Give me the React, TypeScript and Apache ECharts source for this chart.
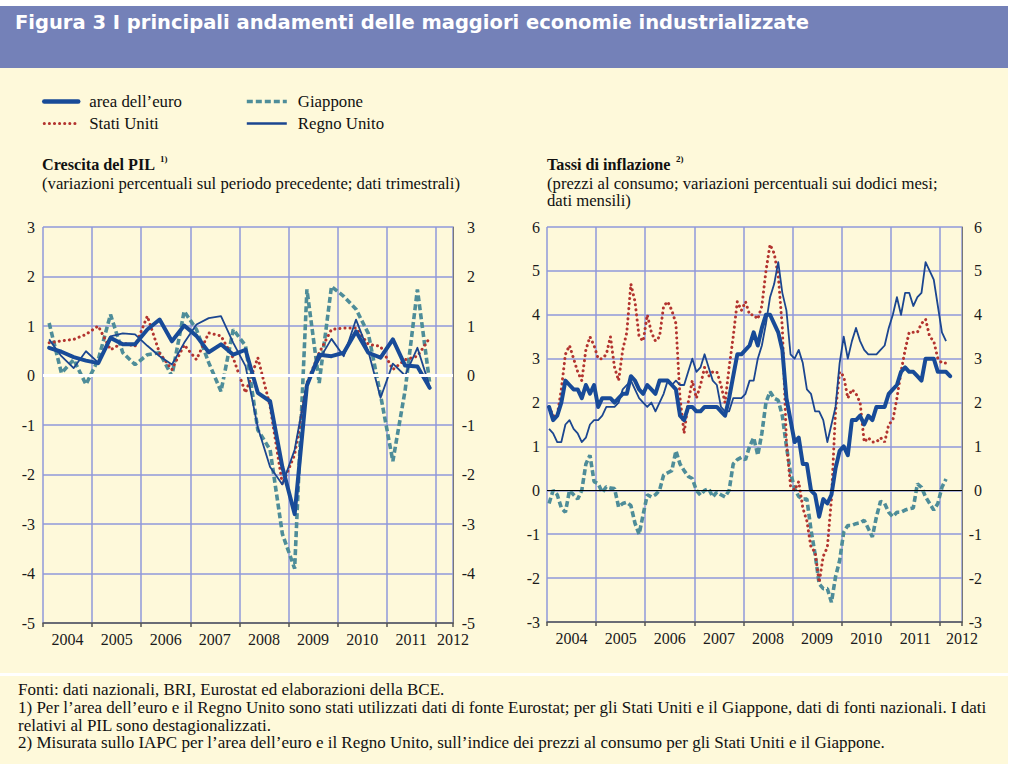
import React, { useEffect, useRef } from 'react';
import * as echarts from 'echarts';

const SERIF = '"Liberation Serif", "Times New Roman", serif';
const TITLE = 'Figura 3 I principali andamenti delle maggiori economie industrializzate';
const YEARS = ['2004', '2005', '2006', '2007', '2008', '2009', '2010', '2011', '2012'];
const START = 2004;

const NAMES = ["area dell\u2019euro", 'Stati Uniti', 'Giappone', 'Regno Unito'];

// GDP growth, quarterly, 2004Q1 - 2011Q4
const gdpEuro = [0.56, 0.48, 0.37, 0.3, 0.25, 0.76, 0.63, 0.63, 0.93, 1.13, 0.69, 1.01, 0.8, 0.47, 0.63, 0.42, 0.52, -0.35, -0.52, -1.85, -2.8, -0.2, 0.42, 0.39, 0.46, 0.89, 0.46, 0.36, 0.73, 0.2, 0.18, -0.25];
const gdpUS = [0.66, 0.7, 0.73, 0.83, 1.0, 0.52, 0.66, 0.59, 1.2, 0.45, 0.12, 0.62, 0.32, 0.86, 0.8, 0.35, -0.35, 0.36, -0.62, -2.2, -1.6, -0.15, 0.46, 0.93, 0.96, 0.96, 0.63, 0.59, 0.12, 0.32, 0.39, 0.76];
const gdpJapan = [1.06, 0.05, 0.32, -0.18, 0.32, 1.23, 0.46, 0.22, 0.42, 0.46, -0.01, 1.3, 0.93, 0.26, -0.32, 0.93, 0.6, -1.1, -1.5, -3.2, -3.9, 1.74, -0.15, 1.8, 1.6, 1.34, 0.85, -0.4, -1.73, -0.3, 1.74, -0.15];
const gdpUK = [0.73, 0.39, 0.15, 0.49, 0.26, 0.79, 0.85, 0.83, 0.6, 0.39, 0.22, 0.66, 1.03, 1.16, 1.2, 0.66, 0.19, -1.05, -1.85, -2.2, -1.5, -0.15, 0.32, 0.74, 0.39, 1.13, 0.49, -0.45, 0.24, 0.0, 0.56, -0.22];

// Consumer price inflation, monthly, from Jan 2004
const cpiEuro = [
  1.9, 1.6, 1.7, 2.0, 2.5, 2.4, 2.3, 2.3, 2.1, 2.4, 2.2, 2.4,
  1.9, 2.1, 2.1, 2.1, 2.0, 2.1, 2.2, 2.2, 2.6, 2.5, 2.3, 2.2,
  2.4, 2.3, 2.2, 2.5, 2.5, 2.5, 2.4, 2.3, 1.7, 1.6, 1.9, 1.9,
  1.8, 1.8, 1.9, 1.9, 1.9, 1.9, 1.8, 1.7, 2.1, 2.6, 3.1, 3.1,
  3.2, 3.3, 3.6, 3.3, 3.7, 4.0, 4.0, 3.8, 3.6, 3.2, 2.1, 1.6,
  1.1, 1.2, 0.6, 0.6, 0.0, -0.1, -0.6, -0.2, -0.3, -0.1, 0.5, 0.9,
  1.0, 0.8, 1.6, 1.6, 1.7, 1.5, 1.7, 1.6, 1.9, 1.9, 1.9, 2.2,
  2.3, 2.4, 2.7, 2.8, 2.7, 2.7, 2.6, 2.5, 3.0, 3.0, 3.0, 2.7,
  2.7, 2.7, 2.6,
];
const cpiUS = [
  1.9, 1.7, 1.7, 2.3, 3.1, 3.3, 3.0, 2.7, 2.5, 3.2, 3.5, 3.3,
  3.0, 3.0, 3.1, 3.5, 2.8, 2.5, 3.2, 3.6, 4.7, 4.3, 3.5, 3.4,
  4.0, 3.6, 3.4, 3.5, 4.2, 4.3, 4.1, 3.8, 2.1, 1.3, 2.0, 2.5,
  2.1, 2.4, 2.8, 2.6, 2.7, 2.7, 2.4, 2.0, 2.8, 3.5, 4.3, 4.1,
  4.3, 4.0, 4.0, 3.9, 4.2, 5.0, 5.6, 5.4, 4.9, 3.7, 1.1, 0.1,
  0.0, 0.2, -0.4, -0.7, -1.3, -1.4, -2.1, -1.5, -1.3, -0.2, 1.8, 2.7,
  2.6, 2.1, 2.3, 2.2, 2.0, 1.1, 1.2, 1.1, 1.1, 1.2, 1.1, 1.5,
  1.6, 2.1, 2.7, 3.2, 3.6, 3.6, 3.6, 3.8, 3.9, 3.5, 3.4, 3.0,
  2.9, 2.9,
];
const cpiJapan = [
  -0.3, 0.0, -0.1, -0.4, -0.5, 0.0, -0.1, -0.2, 0.0, 0.6, 0.8, 0.2,
  0.15, -0.05, 0.08, 0.05, 0.04, -0.38, -0.3, -0.27, -0.35, -0.75, -1.0, -0.55,
  -0.1, -0.15, -0.1, 0.0, 0.35, 0.4, 0.45, 0.9, 0.6, 0.45, 0.32, 0.27,
  0.0, -0.11, 0.0, 0.04, -0.15, -0.04, -0.1, -0.15, 0.0, 0.6, 0.7, 0.75,
  0.7, 1.0, 1.2, 0.8, 1.3, 2.0, 2.25, 2.1, 2.05, 1.7, 1.0, 0.4,
  0.04, -0.14, -0.2, -0.2, -0.9, -1.45, -2.13, -2.24, -2.24, -2.55, -1.97, -1.6,
  -0.95, -0.8, -0.8, -0.76, -0.74, -0.68, -0.87, -1.06, -0.6, -0.25, -0.3, -0.5,
  -0.6, -0.5, -0.5, -0.45, -0.42, -0.4, 0.15, 0.07, -0.15, -0.3, -0.45, -0.3,
  0.07, 0.26,
];
const cpiUK = [
  1.4, 1.3, 1.1, 1.1, 1.5, 1.6, 1.4, 1.3, 1.1, 1.2, 1.5, 1.6,
  1.6, 1.7, 1.9, 1.9, 1.9, 2.0, 2.3, 2.4, 2.5, 2.3, 2.1, 2.0,
  1.9, 2.0, 1.8, 2.0, 2.2, 2.5, 2.4, 2.5, 2.4, 2.4, 2.7, 3.0,
  2.7, 2.8, 3.1, 2.8, 2.5, 2.4, 1.9, 1.8, 1.8, 2.1, 2.1, 2.1,
  2.2, 2.5, 2.5, 3.0, 3.3, 3.8, 4.4, 4.7, 5.2, 4.5, 4.1, 3.1,
  3.0, 3.2, 2.9, 2.3, 2.2, 1.8, 1.8, 1.6, 1.1, 1.5, 1.9, 2.9,
  3.5, 3.0, 3.4, 3.7, 3.4, 3.2, 3.1, 3.1, 3.1, 3.2, 3.3, 3.7,
  4.0, 4.4, 4.0, 4.5, 4.5, 4.2, 4.4, 4.5, 5.2, 5.0, 4.8, 4.2,
  3.6, 3.4,
];

const COL_EURO = '#184b98';
const COL_UK = '#1b4690';
const COL_US = '#b3342f';
const COL_JP = '#4e8d99';
const GRID_COL = '#8f99da';

const toPoints = (arr: number[], perYear: number) =>
  arr.map((v, i) => [START + (i + 0.5) / perYear, v]);

const yearLabel = (v: number) => {
  const fl = Math.floor(v + 1e-6);
  const frac = v - fl;
  if (Math.abs(frac - 0.5) < 0.01) return YEARS[fl - START] ?? '';
  if (v > 2012.2) return YEARS[YEARS.length - 1];
  return '';
};

const STYLE: Record<string, any> = {
  [NAMES[0]]: { color: COL_EURO, width: 4, type: 'solid', cap: 'round', join: 'round' },
  [NAMES[1]]: { color: COL_US, width: 3, type: [0.1, 5], cap: 'round' },
  [NAMES[2]]: { color: COL_JP, width: 3.6, type: [6, 3], cap: 'butt' },
  [NAMES[3]]: { color: COL_UK, width: 1.8, type: 'solid', join: 'round' },
};
const LEGEND_W: Record<string, number> = { [NAMES[0]]: 4.5, [NAMES[1]]: 3, [NAMES[2]]: 3.6, [NAMES[3]]: 2.6 };

function lineSeries(name: string, data: number[][], xi: number, yi: number) {
  return {
    name,
    type: 'line',
    xAxisIndex: xi,
    yAxisIndex: yi,
    data,
    symbol: 'none',
    silent: true,
    lineStyle: STYLE[name],
    itemStyle: { color: STYLE[name].color },
    emphasis: { disabled: true },
  };
}

function zeroSeries(xi: number, yi: number, color: string, width: number) {
  return {
    name: 'zero' + xi,
    type: 'line',
    xAxisIndex: xi,
    yAxisIndex: yi,
    data: [],
    symbol: 'none',
    silent: true,
    markLine: {
      silent: true,
      symbol: 'none',
      label: { show: false },
      lineStyle: { color, width, type: 'solid' },
      data: [{ yAxis: 0 }],
    },
  };
}

const labelAxis = (grid: number, max: number) => ({
  type: 'value', gridIndex: grid, min: START, max, interval: 0.5, position: 'bottom',
  axisLine: { show: false, onZero: false }, axisTick: { show: false }, splitLine: { show: false },
  axisLabel: { formatter: yearLabel, fontFamily: SERIF, fontSize: 16, color: '#1a1a1a', margin: 8, showMinLabel: true, showMaxLabel: true, hideOverlap: false },
});
const tickAxis = (grid: number, max: number) => ({
  type: 'value', gridIndex: grid, min: START, max, interval: 1, position: 'bottom',
  axisLine: { show: true, onZero: false, lineStyle: { color: '#555', width: 1.5 } },
  axisTick: { show: true, length: 4, lineStyle: { color: '#555', width: 1.5 } },
  axisLabel: { show: false },
  splitLine: { show: true, lineStyle: { color: GRID_COL, width: 1.5 } },
});
const leftY = (grid: number, min: number, max: number, margin: number) => ({
  type: 'value', gridIndex: grid, min, max, interval: 1, position: 'left',
  axisLine: { show: false, onZero: false }, axisTick: { show: false },
  splitLine: { show: true, lineStyle: { color: GRID_COL, width: 1.5 } },
  axisLabel: { fontFamily: SERIF, fontSize: 16, color: '#1a1a1a', margin },
});
const rightY = (grid: number, min: number, max: number, margin: number) => ({
  type: 'value', gridIndex: grid, min, max, interval: 1, position: 'right',
  axisLine: { show: true, onZero: false, lineStyle: { color: '#777', width: 1 } }, axisTick: { show: false },
  splitLine: { show: false },
  axisLabel: { fontFamily: SERIF, fontSize: 16, color: '#1a1a1a', margin, align: 'right' },
});

const txt = (text: string, x: number, y: number, size: number, weight: string = 'normal', extra: any = {}) => ({
  type: 'text', x, y, z: 10,
  style: { text, fill: '#111', fontFamily: SERIF, fontSize: size, fontWeight: weight, verticalAlign: 'middle', ...extra },
});

const SUB_LEFT = '(variazioni percentuali sul periodo precedente; dati trimestrali)';
const SUB_RIGHT = ['(prezzi al consumo; variazioni percentuali sui dodici mesi;', 'dati mensili)'];
const FOOT = [
  'Fonti: dati nazionali, BRI, Eurostat ed elaborazioni della BCE.',
  '1) Per l\u2019area dell\u2019euro e il Regno Unito sono stati utilizzati dati di fonte Eurostat; per gli Stati Uniti e il Giappone, dati di fonti nazionali. I dati',
  'relativi al PIL sono destagionalizzati.',
  '2) Misurata sullo IAPC per l\u2019area dell\u2019euro e il Regno Unito, sull\u2019indice dei prezzi al consumo per gli Stati Uniti e il Giappone.',
];

export default function App() {
  const ref = useRef<HTMLDivElement>(null);
  useEffect(() => {
    const chart = echarts.init(ref.current!, null, { renderer: 'svg', width: 1023, height: 777 });
    const legendText = { fontFamily: SERIF, fontSize: 16.8, color: '#111', padding: [0, 0, 0, 6] };
    const legendBase = { orient: 'vertical', top: 93, padding: 0, itemHeight: 14, itemGap: 5, textStyle: legendText, selectedMode: false, itemStyle: { opacity: 0 } };
    const legendItem = (n: string) => ({ name: n, lineStyle: { width: LEGEND_W[n] } });
    const option: any = {
      animation: false,
      backgroundColor: '#ffffff',
      grid: [
        { left: 43, top: 227, width: 410, height: 396 },
        { left: 547, top: 227, width: 415, height: 395 },
      ],
      xAxis: [labelAxis(0, 2012.35), tickAxis(0, 2012.35), labelAxis(1, 2012.45), tickAxis(1, 2012.45)],
      yAxis: [leftY(0, -5, 3, 8), rightY(0, -5, 3, 22), leftY(1, -3, 6, 7), rightY(1, -3, 6, 20)],
      legend: [
        { ...legendBase, data: [legendItem(NAMES[0]), legendItem(NAMES[1])], left: 42, itemWidth: 34 },
        { ...legendBase, data: [legendItem(NAMES[2]), legendItem(NAMES[3])], left: 245, itemWidth: 40 },
      ],
      series: [
        zeroSeries(1, 0, '#ffffff', 3),
        lineSeries(NAMES[2], toPoints(gdpJapan, 4), 1, 0),
        lineSeries(NAMES[1], toPoints(gdpUS, 4), 1, 0),
        lineSeries(NAMES[3], toPoints(gdpUK, 4), 1, 0),
        lineSeries(NAMES[0], toPoints(gdpEuro, 4), 1, 0),
        zeroSeries(3, 2, '#000000', 1),
        lineSeries(NAMES[2], toPoints(cpiJapan, 12), 3, 2),
        lineSeries(NAMES[1], toPoints(cpiUS, 12), 3, 2),
        lineSeries(NAMES[3], toPoints(cpiUK, 12), 3, 2),
        lineSeries(NAMES[0], toPoints(cpiEuro, 12), 3, 2),
      ],
      graphic: [
        { type: 'rect', z: -10, shape: { x: 0, y: 6, width: 1008, height: 62 }, style: { fill: '#7481b8' } },
        { type: 'rect', z: -10, shape: { x: 0, y: 68, width: 1008, height: 605 }, style: { fill: '#fef9da' } },
        { type: 'rect', z: -10, shape: { x: 0, y: 676, width: 1008, height: 88 }, style: { fill: '#fef9da' } },
        { type: 'text', x: 15, y: 22, z: 10, style: { text: TITLE, fill: '#ffffff', fontFamily: '"DejaVu Sans", sans-serif', fontSize: 19.5, fontWeight: 'bold', verticalAlign: 'middle' } },
        txt('Crescita del PIL', 42, 165, 16.2, 'bold'),
        txt('1)', 160, 159, 9, 'bold'),
        txt(SUB_LEFT, 42, 183, 16.7),
        txt('Tassi di inflazione', 547, 165, 16.2, 'bold'),
        txt('2)', 676, 159, 9, 'bold'),
        { type: 'text', x: 547, y: 174.5, z: 10, style: { text: SUB_RIGHT.join('\n'), fill: '#111', fontFamily: SERIF, fontSize: 16.7, lineHeight: 17, verticalAlign: 'top' } },
        { type: 'text', x: 18, y: 681, z: 10, style: { text: FOOT.join('\n'), fill: '#111', fontFamily: SERIF, fontSize: 17, lineHeight: 17.7, verticalAlign: 'top' } },
      ],
    };
    chart.setOption(option);
    return () => chart.dispose();
  }, []);
  return <div ref={ref} style={{ position: 'absolute', left: 0, top: 0, width: 1023, height: 777 }} />;
}
